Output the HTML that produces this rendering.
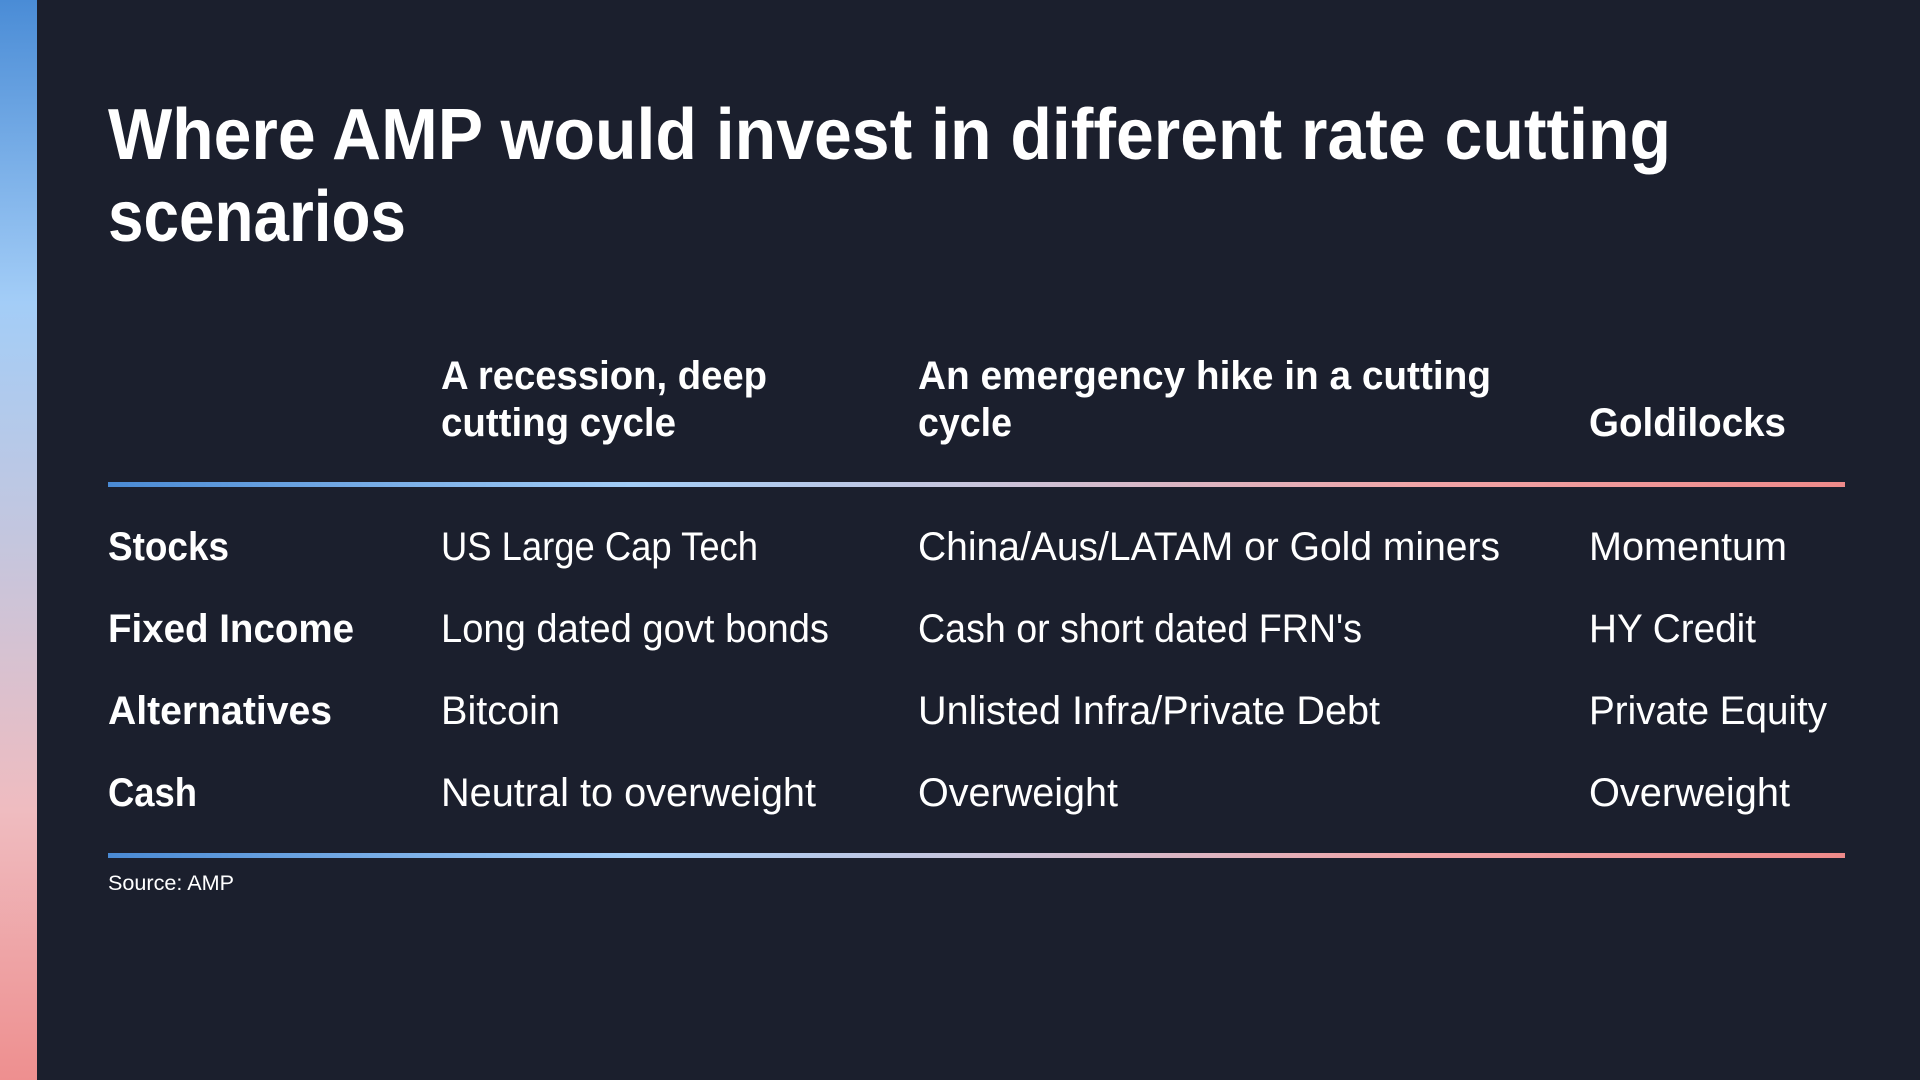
<!DOCTYPE html>
<html><head><meta charset="utf-8"><style>
html,body{margin:0;padding:0;background:#1b1f2d;}
svg{display:block}
text{font-family:"Liberation Sans",sans-serif;fill:#ffffff;}
.b{font-weight:bold}
</style></head><body>
<svg width="1920" height="1080" viewBox="0 0 1920 1080">
<defs>
<linearGradient id="vbar" x1="0" y1="0" x2="0" y2="1">
<stop offset="0" stop-color="#4a8cd6"/><stop offset="0.28" stop-color="#a3cdf7"/>
<stop offset="0.5" stop-color="#c4c6de"/><stop offset="0.75" stop-color="#efbcc0"/>
<stop offset="1" stop-color="#ee8f8f"/></linearGradient>
<linearGradient id="hline" x1="0" y1="0" x2="1" y2="0">
<stop offset="0" stop-color="#4a8ad4"/><stop offset="0.3" stop-color="#a3cdf7"/>
<stop offset="0.5" stop-color="#c9c5dc"/><stop offset="0.75" stop-color="#f0a5a8"/>
<stop offset="1" stop-color="#ee8a8a"/></linearGradient>
</defs>
<rect width="1920" height="1080" fill="#1b1f2d"/>
<rect x="0" y="0" width="37" height="1080" fill="url(#vbar)"/>
<g>
<text class="b" x="108" y="159" font-size="72" textLength="1563" lengthAdjust="spacingAndGlyphs">Where AMP would invest in different rate cutting</text>
<text class="b" x="108" y="241" font-size="72" textLength="298" lengthAdjust="spacingAndGlyphs">scenarios</text>
</g>
<g class="b" font-size="40">
<text class="b" x="441" y="389" textLength="326" lengthAdjust="spacingAndGlyphs">A recession, deep</text>
<text class="b" x="441" y="436" textLength="235" lengthAdjust="spacingAndGlyphs">cutting cycle</text>
<text class="b" x="918" y="389" textLength="573" lengthAdjust="spacingAndGlyphs">An emergency hike in a cutting</text>
<text class="b" x="918" y="436" textLength="94" lengthAdjust="spacingAndGlyphs">cycle</text>
<text class="b" x="1589" y="436" textLength="197" lengthAdjust="spacingAndGlyphs">Goldilocks</text>
</g>
<rect x="108" y="482" width="1737" height="5" fill="url(#hline)"/>
<g font-size="40">
<text class="b" x="108" y="560" textLength="121" lengthAdjust="spacingAndGlyphs">Stocks</text>
<text x="441" y="560" textLength="317" lengthAdjust="spacingAndGlyphs">US Large Cap Tech</text>
<text x="918" y="560" textLength="582" lengthAdjust="spacingAndGlyphs">China/Aus/LATAM or Gold miners</text>
<text x="1589" y="560" textLength="198" lengthAdjust="spacingAndGlyphs">Momentum</text>

<text class="b" x="108" y="642" textLength="246" lengthAdjust="spacingAndGlyphs">Fixed Income</text>
<text x="441" y="642" textLength="388" lengthAdjust="spacingAndGlyphs">Long dated govt bonds</text>
<text x="918" y="642" textLength="444" lengthAdjust="spacingAndGlyphs">Cash or short dated FRN's</text>
<text x="1589" y="642" textLength="167" lengthAdjust="spacingAndGlyphs">HY Credit</text>

<text class="b" x="108" y="724" textLength="224" lengthAdjust="spacingAndGlyphs">Alternatives</text>
<text x="441" y="724" textLength="119" lengthAdjust="spacingAndGlyphs">Bitcoin</text>
<text x="918" y="724" textLength="462" lengthAdjust="spacingAndGlyphs">Unlisted Infra/Private Debt</text>
<text x="1589" y="724" textLength="238" lengthAdjust="spacingAndGlyphs">Private Equity</text>

<text class="b" x="108" y="806" textLength="89" lengthAdjust="spacingAndGlyphs">Cash</text>
<text x="441" y="806" textLength="375" lengthAdjust="spacingAndGlyphs">Neutral to overweight</text>
<text x="918" y="806" textLength="200" lengthAdjust="spacingAndGlyphs">Overweight</text>
<text x="1589" y="806" textLength="201" lengthAdjust="spacingAndGlyphs">Overweight</text>
</g>
<rect x="108" y="853" width="1737" height="5" fill="url(#hline)"/>
<text x="108" y="890" font-size="21" textLength="126" lengthAdjust="spacingAndGlyphs">Source: AMP</text>
</svg>
</body></html>
